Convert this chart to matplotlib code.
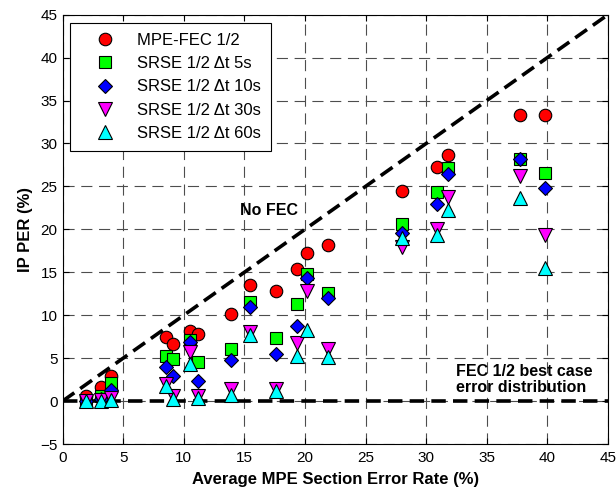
import matplotlib
matplotlib.use("Agg")
import matplotlib.pyplot as plt

plt.rcParams['font.family'] = ['Liberation Sans', 'DejaVu Sans']

# average MPE section error rate (%) for each measurement
ser = [1.95, 3.15, 4.0, 8.5, 9.1, 10.55, 11.15, 13.9, 15.5, 17.6,
       19.35, 20.2, 21.9, 28.0, 30.9, 31.8, 37.7, 39.8]

# IP PER (%) per scheme
mpe_fec = [0.6, 1.6, 2.95, 7.45, 6.6, 8.15, 7.8, 10.1, 13.5, 12.8,
           15.4, 17.3, 18.2, 24.5, 27.3, 28.6, 33.3, 33.3]
srse_5s = [0.05, 0.6, 2.1, 5.3, 4.85, 7.15, 4.55, 6.05, 11.5, 7.4,
           11.35, 14.85, 12.55, 20.6, 24.3, 27.2, 28.2, 26.6]
srse_10s = [0.05, 0.2, 1.25, 3.95, 2.9, 6.85, 2.4, 4.75, 10.95, 5.5,
            8.7, 14.3, 12.0, 19.6, 22.9, 26.4, 28.2, 24.8]
srse_30s = [0.05, 0.1, 0.4, 1.95, 0.65, 5.7, 0.6, 1.4, 8.05, 1.4,
            6.8, 12.8, 6.1, 17.9, 20.0, 23.8, 26.2, 19.4]
srse_60s = [0.0, 0.0, 0.1, 1.75, 0.2, 4.3, 0.4, 0.75, 7.75, 1.15,
            5.3, 8.3, 5.15, 19.0, 19.4, 22.2, 23.6, 15.5]

labels = ['MPE-FEC 1/2', 'SRSE 1/2 \u0394t 5s', 'SRSE 1/2 \u0394t 10s',
          'SRSE 1/2 \u0394t 30s', 'SRSE 1/2 \u0394t 60s']
colors = ['#ff0000', '#00ff00', '#0000ff', '#ff00ff', '#00ffff']
markers = ['o', 's', 'D', 'v', '^']
sizes = [9, 8.5, 7, 9.5, 9.5]

fig = plt.figure(figsize=(6.16, 4.88), dpi=100)
ax = fig.add_axes([0.1015, 0.090, 0.8855, 0.880])

# reference lines
ax.plot([0, 45], [0, 45], color='black', lw=2.6, ls=(0, (4, 2)), zorder=2)
ax.plot([0, 45], [0, 0], color='black', lw=2.6, ls=(0, (4, 2)), zorder=2)

series = [mpe_fec, srse_5s, srse_10s, srse_30s, srse_60s]
for i, ys in enumerate(series):
    ax.plot(ser, ys, ls='none', marker=markers[i], ms=sizes[i],
            mfc=colors[i], mec='black', mew=0.8, label=labels[i],
            zorder=3 + i)

ax.text(17.0, 22.2, 'No FEC', fontsize=11.5, fontweight='bold',
        ha='center', va='center')
ax.text(32.5, 2.5, 'FEC 1/2 best case\nerror distribution', fontsize=11.5,
        fontweight='bold', ha='left', va='center', linespacing=1.1)

ax.set_xlim(0, 45)
ax.set_ylim(-5, 45)
ax.set_xticks(range(0, 46, 5))
ax.set_yticks(range(-5, 46, 5))
ax.tick_params(direction='in', top=True, right=True, labelsize=11,
               length=4, width=0.8)
ax.tick_params(axis='x', pad=5)
ax.grid(True, color='0.3', ls=(0, (10, 6)), lw=0.8)
ax.set_axisbelow(True)
for s in ax.spines.values():
    s.set_linewidth(0.8)

ax.set_xlabel('Average MPE Section Error Rate (%)', fontsize=12,
              fontweight='bold', labelpad=5)
ax.set_ylabel('IP PER (%)', fontsize=12, fontweight='bold', labelpad=5)

leg = ax.legend(loc='upper left', bbox_to_anchor=(0.0137, 0.981), fontsize=12,
                frameon=True, fancybox=False, edgecolor='black',
                borderpad=0.6, labelspacing=0.5, handlelength=3.0,
                handletextpad=0.4, borderaxespad=0)
leg.get_frame().set_linewidth(0.8)
leg.get_frame().set_alpha(1)

fig.savefig('out.png', dpi=100)
